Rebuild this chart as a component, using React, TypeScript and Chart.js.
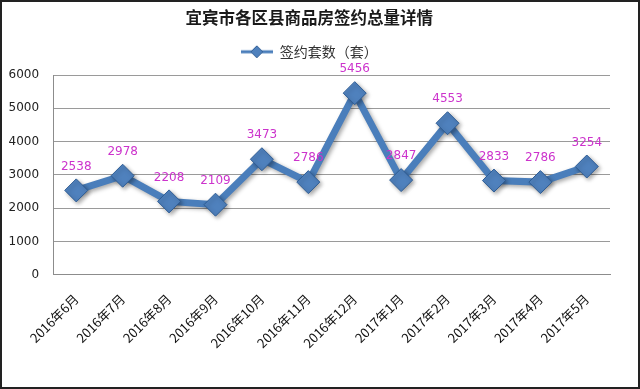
import React, { useEffect, useRef } from "react";
import { Chart, registerables } from "chart.js";

Chart.register(...registerables);

const titleText = "宜宾市各区县商品房签约总量详情";
const seriesName = "签约套数（套）";
const categories = [
  "2016年6月", "2016年7月", "2016年8月", "2016年9月", "2016年10月", "2016年11月",
  "2016年12月", "2017年1月", "2017年2月", "2017年3月", "2017年4月", "2017年5月",
];
const signedUnits = [2538, 2978, 2208, 2109, 3473, 2786, 5456, 2847, 4553, 2833, 2786, 3254];
const yMin = 0;
const yMax = 6000;
const yStep = 1000;

const LINE = "#4a7ebb";
const POINT = "#4f81bd";
const POINT_BORDER = "#2e5c94";
const LABEL = "#cc33cc";

function makeLegendIcon(): HTMLCanvasElement {
  const c = document.createElement("canvas");
  c.width = 32;
  c.height = 14;
  const ctx = c.getContext("2d")!;
  ctx.strokeStyle = LINE;
  ctx.lineWidth = 3;
  ctx.beginPath();
  ctx.moveTo(0, 7);
  ctx.lineTo(32, 7);
  ctx.stroke();
  ctx.fillStyle = POINT;
  ctx.strokeStyle = POINT_BORDER;
  ctx.lineWidth = 1;
  ctx.beginPath();
  ctx.moveTo(16, 1);
  ctx.lineTo(22, 7);
  ctx.lineTo(16, 13);
  ctx.lineTo(10, 7);
  ctx.closePath();
  ctx.fill();
  ctx.stroke();
  return c;
}

const shadowPlugin = {
  id: "shadowPlugin",
  beforeDatasetsDraw(chart: any) {
    const ctx = chart.ctx;
    ctx.save();
    ctx.shadowColor = "rgba(0,0,0,0.35)";
    ctx.shadowBlur = 4;
    ctx.shadowOffsetX = 2;
    ctx.shadowOffsetY = 2;
  },
  afterDatasetsDraw(chart: any) {
    chart.ctx.restore();
  },
};

const valueLabelPlugin = {
  id: "valueLabelPlugin",
  afterDraw(chart: any) {
    const ctx = chart.ctx;
    const meta = chart.getDatasetMeta(0);
    const data = chart.data.datasets[0].data;
    ctx.save();
    ctx.fillStyle = LABEL;
    ctx.font = "12px 'DejaVu Sans'";
    ctx.textAlign = "center";
    ctx.textBaseline = "middle";
    meta.data.forEach((pt: any, i: number) => {
      ctx.fillText(String(data[i]), pt.x, pt.y - 24);
    });
    ctx.restore();
  },
};

const Y_TICK_PAD = 14;

export default function App() {
  const ref = useRef<HTMLCanvasElement>(null);

  useEffect(() => {
    document.body.style.margin = "0";
    const canvas = ref.current!;
    const icon = makeLegendIcon();
    const chart = new Chart(canvas, {
      type: "line",
      data: {
        labels: categories,
        datasets: [
          {
            label: seriesName,
            data: signedUnits,
            borderColor: LINE,
            borderWidth: 7,
            backgroundColor: POINT,
            pointStyle: "rectRot",
            pointRadius: 11.5,
            pointBackgroundColor: POINT,
            pointBorderColor: POINT_BORDER,
            pointBorderWidth: 1,
            tension: 0,
            fill: false,
          },
        ],
      },
      options: {
        responsive: false,
        animation: false,
        layout: { padding: { left: 6.5, right: 28, top: 4, bottom: 20 } },
        plugins: {
          title: {
            display: true,
            text: titleText,
            color: "#1a1a1a",
            font: { family: "'Noto Sans CJK SC'", size: 16.5, weight: "bold" },
            padding: { top: 2, bottom: 3 },
          },
          subtitle: {
            display: true,
            text: "",
            weight: 500,
            font: { size: 1 },
            padding: { top: 0, bottom: 5 },
          } as any,
          legend: {
            display: true,
            labels: {
              usePointStyle: true,
              pointStyle: icon as any,
              pointStyleWidth: 32,
              color: "#333",
              font: { family: "'Noto Sans CJK SC'", size: 14 },
              padding: 14,
            },
          },
          tooltip: { enabled: false },
        },
        scales: {
          x: {
            offset: true,
            grid: { display: false, drawTicks: false },
            border: { display: true, color: "#8c8c8c", width: 1 },
            ticks: {
              color: "#111",
              font: { family: "'Noto Sans CJK SC'", size: 13 },
              maxRotation: 45,
              minRotation: 45,
              autoSkip: false,
              padding: 16,
            },
            afterFit: (s: any) => {
              s.paddingLeft = 0;
            },
          },
          y: {
            min: yMin,
            max: yMax,
            grid: { color: "#9a9a9a", drawTicks: false, lineWidth: 1 },
            border: { display: true, color: "#8c8c8c", width: 1 },
            ticks: {
              stepSize: yStep,
              color: "#222",
              font: { family: "'DejaVu Sans'", size: 12 },
              padding: Y_TICK_PAD,
              callback: (v: any) => String(v),
            },
            afterFit: (s: any) => {
              s.width = s.width - Y_TICK_PAD;
            },
          },
        },
      },
      plugins: [shadowPlugin, valueLabelPlugin],
    });
    return () => chart.destroy();
  }, []);

  return (
    <div
      style={{
        width: 640,
        height: 389,
        border: "2px solid #222",
        boxSizing: "border-box",
        background: "#fff",
      }}
    >
      <canvas ref={ref} width={636} height={385} style={{ display: "block" }} />
    </div>
  );
}
